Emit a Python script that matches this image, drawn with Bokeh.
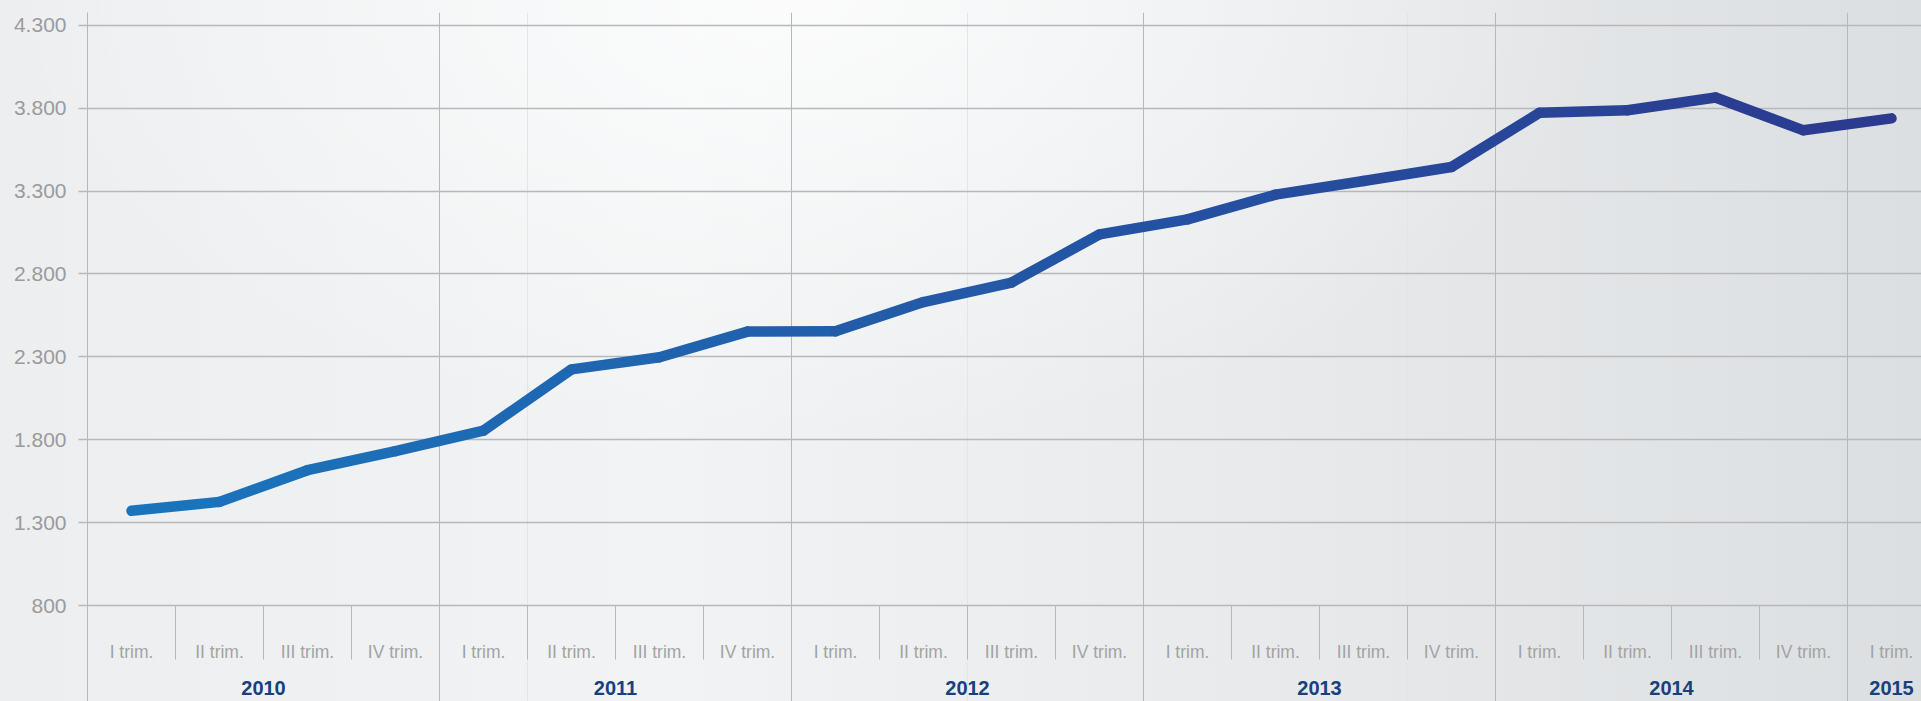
import numpy as np
from bokeh.plotting import figure
from bokeh.models import Range1d, FixedTicker, Grid
from bokeh.core.properties import value
from bokeh.embed import file_html
from bokeh.resources import INLINE

# ---------------- data ----------------
years = ["2010", "2011", "2012", "2013", "2014", "2015"]
quarter_names = ["I", "II", "III", "IV"]
period_year = (["2010"] * 4 + ["2011"] * 4 + ["2012"] * 4 +
               ["2013"] * 4 + ["2014"] * 4 + ["2015"] * 1)
period_quarter = quarter_names * 5 + ["I"]
values = [1371, 1425, 1616, 1731, 1855, 2224, 2297, 2452, 2454, 2630, 2748,
          3038, 3129, 3278, 3360, 3445, 3772, 3787, 3864, 3666, 3738]
y_ticks = [800, 1300, 1800, 2300, 2800, 3300, 3800, 4300]

# ---------------- layout ----------------
W, H = 1921, 701
LEFT, TOP = 87, 12
QPX = 88                       # pixels per quarter
Y_HI_PX, Y_LO_PX = 24.7, 605   # screen position of top / bottom tick
ppu = (Y_LO_PX - Y_HI_PX) / (y_ticks[-1] - y_ticks[0])
y_start = y_ticks[0] - (H - Y_LO_PX) / ppu
y_end = y_ticks[-1] + (Y_HI_PX - TOP) / ppu
x_end = (W - LEFT) / QPX

GRID = "#b6b8ba"
FONT = value("Liberation Sans")

p = figure(width=W, height=H, output_backend="svg", toolbar_location=None,
           x_range=Range1d(0, x_end), y_range=Range1d(y_start, y_end),
           x_axis_location=None, min_border_left=LEFT, min_border_top=TOP,
           min_border_right=0, min_border_bottom=0)
p.outline_line_color = None
p.background_fill_alpha = 0
p.border_fill_alpha = 0
p.styles = {"background": "radial-gradient(ellipse 60% 90% at 42% 0%, rgba(255,255,255,0.75), rgba(255,255,255,0) 70%), "
                          "linear-gradient(90deg, #eceef0 0%, #f1f3f4 35%, #e8eaec 65%, #dcdfe1 100%)"}

# y axis
yax = p.yaxis[0]
yax.ticker = FixedTicker(ticks=y_ticks)
yax.major_label_overrides = {v: f"{v:,}".replace(",", ".") for v in y_ticks}
yax.major_label_text_font = "Liberation Sans"
yax.major_label_text_font_size = "21px"
yax.major_label_text_color = "#9b9b9b"
yax.major_label_standoff = 12
yax.major_tick_out = 9
yax.major_tick_in = 0
yax.minor_tick_out = 0
yax.minor_tick_in = 0
yax.major_tick_line_color = GRID
yax.major_tick_line_width = 1.5
yax.axis_line_color = GRID
yax.axis_line_width = 1

p.ygrid.grid_line_color = GRID
p.ygrid.grid_line_width = 1.5

# year boundary lines
n = len(values)
year_bounds = [period_year.index(y) for y in years]
p.add_layout(Grid(dimension=0, ticker=FixedTicker(ticks=year_bounds),
                  grid_line_color=GRID, grid_line_width=1))

# quarter separators below the lowest gridline
qb = list(range(1, n))
p.ray(x=qb, y=[y_ticks[0]] * len(qb), length=54, length_units="screen",
      angle=-np.pi / 2, line_color=GRID, line_width=1)

# gradient line
xs = [i + 0.5 for i in range(n)]
c0 = np.array([0x1a, 0x74, 0xbc])
c1 = np.array([0x2c, 0x3a, 0x90])
cols = []
for i in range(n - 1):
    t = i / (n - 2)
    c = (c0 + (c1 - c0) * t).round().astype(int)
    cols.append("#%02x%02x%02x" % tuple(c))
p.segment(x0=xs[:-1], y0=values[:-1], x1=xs[1:], y1=values[1:],
          line_color=cols, line_width=10.5, line_cap="round")

# quarter labels
qlabels = [f"{q} trim." for q in period_quarter]
p.text(x=xs, y=[y_ticks[0]] * n, text=qlabels, text_align="center",
       text_baseline="alphabetic", y_offset=46, text_font=FONT,
       text_font_size="17.5px", text_color="#a3a3a3")

# year labels
ycent = [float(np.mean([xs[i] for i in range(n) if period_year[i] == y])) for y in years]
p.text(x=ycent, y=[y_ticks[0]] * len(years), text=years, text_align="center",
       text_baseline="alphabetic", y_offset=82, text_font=FONT,
       text_font_style="bold", text_font_size="20px", text_color="#17407f")

open("out.html", "w").write(file_html(p, INLINE))
